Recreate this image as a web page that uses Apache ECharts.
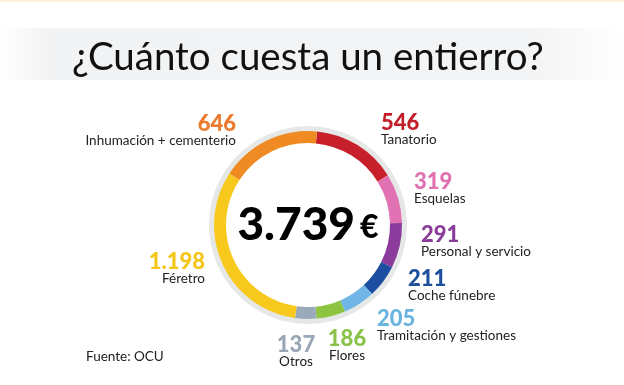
<!DOCTYPE html>
<html>
<head>
<meta charset="utf-8">
<script src="https://cdn.jsdelivr.net/npm/echarts@6/dist/echarts.min.js"></script>
<style>
html,body{margin:0;padding:0;background:#fff;}
#chart{width:624px;height:385px;}
</style>
</head>
<body>
<div id="chart"></div>
<script>
// ---- data ----
var categories = ['Tanatorio','Esquelas','Personal y servicio','Coche fúnebre','Tramitación y gestiones','Flores','Otros','Féretro','Inhumación + cementerio'];
var values = [546, 319, 291, 211, 205, 186, 137, 1198, 646];
var valueLabels = ['546','319','291','211','205','186','137','1.198','646'];
var titleText = '¿Cuánto cuesta un entierro?';
var sourceText = 'Fuente: OCU';

// ---- styling / layout (not data) ----
var colors = ['#c8202b','#e172b3','#8b3b9b','#1b4ea0','#6fb5e6','#8dc540','#9aaabb','#f8c91d','#f08b24'];
var numColors = ['#c21f2b','#e070b0','#8a3c98','#1f4f9c','#6ab4e0','#8bc34a','#9aa6b6','#f5c518','#ec7a2d'];
var labelPos = [
  {x:381, y:113, align:'left'},
  {x:414, y:172, align:'left'},
  {x:421, y:225, align:'left'},
  {x:408, y:269, align:'left'},
  {x:377, y:309, align:'left'},
  {x:347, y:329, align:'center'},
  {x:296, y:335, align:'center'},
  {x:205, y:252, align:'right'},
  {x:236, y:114, align:'right'}
];
var cx = 308, cy = 225;

var total = values.reduce(function(a,b){return a+b;},0);
var totalStr = String(total).replace(/\B(?=(\d{3})+(?!\d))/g, '.');

var rich = {};
numColors.forEach(function(c,i){
  rich['v'+i] = {fontFamily:'Lato', fontWeight:900, fontSize:22, lineHeight:20, color:c};
});
rich.n = {fontFamily:'Lato', fontSize:13.5, lineHeight:14, color:'#222'};

var chart = echarts.init(document.getElementById('chart'), null, {renderer:'canvas'});
chart.setOption({
  animation:false,
  backgroundColor:'#ffffff',
  graphic:[
    {type:'rect', shape:{x:0,y:0,width:624,height:2}, style:{fill:'#fcf1dd'}, silent:true},
    {type:'rect', shape:{x:0,y:28,width:624,height:52}, silent:true,
      style:{fill:new echarts.graphic.LinearGradient(0,0,1,0,[
        {offset:0,color:'#ffffff'},{offset:0.08,color:'#f2f3f4'},{offset:0.85,color:'#f3f4f5'},{offset:1,color:'#ffffff'}])}},
    {type:'text', left:72, top:38, silent:true,
      style:{text:titleText, font:'38.5px Lato', fill:'#111'}},
    {type:'text', left:86, top:350, silent:true,
      style:{text:sourceText, font:'13.5px Lato', fill:'#222'}},
    {type:'text', x:cx, y:cy, silent:true,
      style:{text:'{a|'+totalStr+'}{b|€}', align:'center', verticalAlign:'middle',
        rich:{a:{fontFamily:'Lato', fontWeight:900, fontSize:46, fill:'#000', color:'#000'},
              b:{fontFamily:'Lato', fontWeight:900, fontSize:32, fill:'#000', color:'#000', padding:[6,0,0,5]}}}}
  ],
  series:[
    {
      type:'pie', silent:true, center:[cx,cy], radius:[93,99],
      label:{show:false}, labelLine:{show:false},
      data:[{value:1, itemStyle:{color:'#e6e8e8'}}]
    },
    {
      type:'pie', silent:true, center:[cx,cy], radius:[82,94],
      startAngle:84.5, clockwise:true, avoidLabelOverlap:false,
      itemStyle:{borderWidth:0},
      data:categories.map(function(c,i){
        return {name:c, value:values[i], itemStyle:{color:colors[i]}};
      }),
      label:{
        show:true, position:'outside',
        formatter:function(p){ return '{v'+p.dataIndex+'|'+valueLabels[p.dataIndex]+'}\n{n|'+p.name+'}'; },
        rich:rich
      },
      labelLine:{show:false},
      labelLayout:function(p){
        var lp = labelPos[p.dataIndex];
        return {x:lp.x, y:lp.y, align:lp.align, verticalAlign:'top', moveOverlap:false, hideOverlap:false};
      }
    }
  ]
});
</script>
</body>
</html>
